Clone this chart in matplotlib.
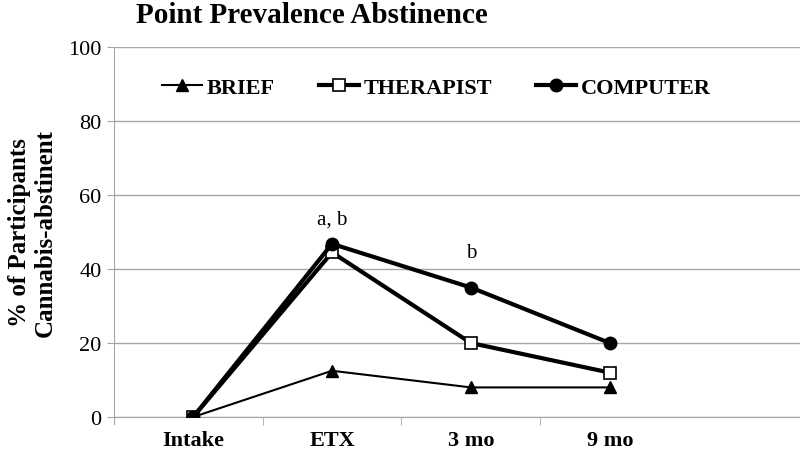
import matplotlib.pyplot as plt

categories = ['Intake', 'ETX', '3 mo', '9 mo']
brief = [0, 12.5, 8, 8]
therapist = [0, 44.5, 20, 12]
computer = [0, 46.8, 35, 20]
notes = [('a, b', 1, 51), ('b', 2, 42)]

plt.rcParams['font.family'] = ['Liberation Serif', 'DejaVu Serif']

fig = plt.figure(figsize=(8, 4.56), dpi=100)
ax = fig.add_axes([0.1425, 0.0833, 0.8575, 0.8114])

x = list(range(len(categories)))
ax.plot(x, brief, color='black', lw=1.5, marker='^', ms=8, label='BRIEF', zorder=3)
ax.plot(x, therapist, color='black', lw=3, marker='s', ms=8, mfc='white', mew=1.2, label='THERAPIST', zorder=4)
ax.plot(x, computer, color='black', lw=3, marker='o', ms=9, label='COMPUTER', zorder=5)

for txt, xi, yi in notes:
    ax.text(xi, yi, txt, ha='center', va='bottom', fontsize=15)

ax.set_xlim(-0.57, 4.37)
ax.set_ylim(0, 100)
ax.set_yticks([0, 20, 40, 60, 80, 100])
ax.yaxis.grid(True, color='#a6a6a6', lw=1)
ax.set_axisbelow(True)
ax.set_xticks(x)
ax.set_xticklabels(categories, fontweight='bold', fontsize=16)
ax.set_xticks([0.5, 1.5, 2.5], minor=True)
ax.tick_params(axis='x', which='major', length=0, pad=9)
ax.tick_params(axis='x', which='minor', length=6, color='#a6a6a6')
ax.tick_params(axis='y', length=5, color='#a6a6a6', labelsize=16, pad=4)
for s in ['top', 'right']:
    ax.spines[s].set_visible(False)
for s in ['left', 'bottom']:
    ax.spines[s].set_color('#a6a6a6')
ax.spines['left'].set_bounds(-2, 100)

ax.set_ylabel('% of Participants\nCannabis-abstinent', fontsize=18, fontweight='bold',
              labelpad=8, linespacing=1.15)
fig.text(0.39, 0.965, 'Point Prevalence Abstinence', ha='center', va='center',
         fontsize=21, fontweight='bold')

leg = ax.legend(loc='center', bbox_to_anchor=(0.47, 0.89), ncol=3, frameon=False,
                prop={'weight': 'bold', 'size': 16}, handlelength=1.8, columnspacing=2.0,
                handletextpad=0.2)

fig.savefig('out.png', dpi=100)
